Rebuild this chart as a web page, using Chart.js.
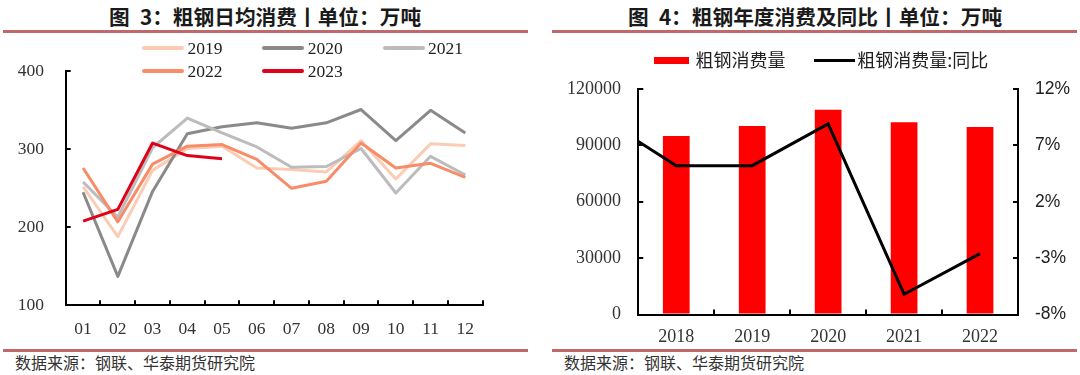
<!DOCTYPE html>
<html>
<head>
<meta charset="utf-8">
<script src="https://cdn.jsdelivr.net/npm/chart.js@4.4.0/dist/chart.umd.min.js"></script>
<style>
  body { margin: 0; width: 1080px; height: 375px; background: #fff; position: relative; overflow: hidden;
         font-family: "Noto Sans CJK SC", sans-serif; }
  canvas { position: absolute; top: 0; }
  .title { position: absolute; top: 3px; font-weight: bold; font-size: 20.7px; line-height: 26px; color: #1a1a1a; text-align: center; white-space: nowrap; }
  .rule { position: absolute; height: 3px; background: #c0696a; }
  .src { position: absolute; top: 351px; font-size: 16px; line-height: 22px; color: #333; white-space: nowrap; }
  .lg { position: absolute; white-space: nowrap; }
  .lg i { position: absolute; display: block; border-radius: 2px; }
  .lg span { position: absolute; }
</style>
</head>
<body>
<div class="title" style="left:0;width:530px;">图&ensp;3：粗钢日均消费丨单位：万吨</div>
<div class="title" style="left:552px;width:526px;">图&ensp;4：粗钢年度消费及同比丨单位：万吨</div>
<div class="rule" style="left:3px;width:525px;top:30px;"></div>
<div class="rule" style="left:552px;width:525px;top:30px;"></div>
<div class="rule" style="left:3px;width:525px;top:349px;"></div>
<div class="rule" style="left:552px;width:525px;top:349px;"></div>
<div class="src" style="left:15px;">数据来源：钢联、华泰期货研究院</div>
<div class="src" style="left:564px;">数据来源：钢联、华泰期货研究院</div>

<canvas id="daily" width="540" height="375" style="left:0;"></canvas>
<canvas id="annual" width="540" height="375" style="left:540px;"></canvas>
<div id="legend1"></div>
<div id="legend2"></div>

<script>
// 图3 粗钢日均消费 (万吨)
const months = ['01', '02', '03', '04', '05', '06', '07', '08', '09', '10', '11', '12'];
const d2019 = [252, 188, 273, 301, 304, 276, 274, 271, 311, 262, 307, 305];
const d2020 = [245, 137, 246, 320, 329, 334, 327, 334, 351, 311, 350, 321];
const d2021 = [258, 213, 302, 340, 321, 303, 277, 278, 301, 244, 291, 267];
const d2022 = [276, 207, 281, 304, 306, 287, 250, 259, 308, 276, 282, 264];
const d2023 = [208, 223, 308, 292, 288];
const dailyTicks = [100, 200, 300, 400];

// 图4 粗钢年度消费及同比 (2017 only carries the yoy point that runs in from the left edge)
const years = ['2017', '2018', '2019', '2020', '2021', '2022'];
const consumption = [null, 95000, 100300, 109000, 102300, 99800];
const yoy = [9.5, 5.2, 5.2, 8.9, -6.2, -2.6];
const volTicks = [0, 30000, 60000, 90000, 120000];
const yoyTicks = [-8, -3, 2, 7, 12];

const serif = 'Liberation Serif';
const axisGrid = { drawOnChartArea: false, tickLength: -5, color: '#000', lineWidth: 2 };
const axisBorder = { color: '#000', width: 2 };

function tickRange(t) {
    return { min: t[0], max: t[t.length - 1], stepSize: t[1] - t[0] };
}

const dailySets = [
    { label: '2019', data: d2019, borderColor: '#fbcbb4', order: 4 },
    { label: '2020', data: d2020, borderColor: '#8a8a8a', order: 3 },
    { label: '2021', data: d2021, borderColor: '#bcbcbc', order: 2 },
    { label: '2022', data: d2022, borderColor: '#f88c68', order: 1 },
    { label: '2023', data: d2023, borderColor: '#e00018', order: 0 }
];

new Chart(document.getElementById('daily'), {
    type: 'line',
    data: { labels: months, datasets: dailySets },
    options: {
        responsive: false,
        animation: false,
        layout: { padding: { top: 71.3, right: 57.3, bottom: 29.7, left: 0 } },
        plugins: { legend: { display: false }, tooltip: { enabled: false } },
        elements: {
            point: { radius: 0 },
            line: { borderWidth: 3, tension: 0, borderJoinStyle: 'round' }
        },
        scales: {
            x: {
                offset: true,
                grid: Object.assign({ offset: true }, axisGrid),
                border: axisBorder,
                ticks: { padding: 18.7, color: '#333', font: { family: serif, size: 17.5 } },
                afterFit: s => { s.height = 40; }
            },
            y: Object.assign(tickRange(dailyTicks), {
                grid: axisGrid,
                border: axisBorder,
                ticks: { stepSize: 100, padding: 26.7, color: '#333', font: { family: serif, size: 17.5 },
                         callback: v => String(v) },
                afterFit: s => { s.width = 65.7; }
            })
        }
    }
});

new Chart(document.getElementById('annual'), {
    type: 'bar',
    data: {
        labels: years,
        datasets: [
            { type: 'line', label: '粗钢消费量:同比', data: yoy, yAxisID: 'y1', borderColor: '#000',
              backgroundColor: '#000', borderWidth: 3, pointRadius: 0, tension: 0, order: 0 },
            { type: 'bar', label: '粗钢消费量', data: consumption, yAxisID: 'y', backgroundColor: '#ff0000',
              barPercentage: 0.352, categoryPercentage: 1, order: 1 }
        ]
    },
    options: {
        responsive: false,
        animation: false,
        layout: { padding: { top: 89, right: 0, bottom: 20.5, left: 0 } },
        plugins: { legend: { display: false }, tooltip: { enabled: false } },
        scales: {
            x: {
                min: '2018',
                offset: true,
                grid: Object.assign({ offset: true }, axisGrid),
                border: axisBorder,
                ticks: { padding: 17, color: '#333', font: { family: serif, size: 18 } },
                afterFit: s => { s.height = 40; }
            },
            y: Object.assign(tickRange(volTicks), {
                position: 'left',
                grid: axisGrid,
                border: axisBorder,
                ticks: { stepSize: volTicks[1] - volTicks[0], padding: 22.3, color: '#333',
                         font: { family: serif, size: 18 }, callback: v => String(v) },
                afterFit: s => { s.width = 98.3; }
            }),
            y1: Object.assign(tickRange(yoyTicks), {
                position: 'right',
                grid: axisGrid,
                border: axisBorder,
                ticks: { stepSize: yoyTicks[1] - yoyTicks[0], padding: 22, color: '#222',
                         font: { family: 'Liberation Sans', size: 17.5 }, callback: v => v + '%' },
                afterFit: s => { s.width = 62; }
            })
        }
    }
});

// legends, built from the datasets
const lg1 = document.getElementById('legend1');
dailySets.forEach((ds, i) => {
    const col = i % 3, row = Math.floor(i / 3);
    const x = 142 + col * 120.3, y = 48.3 + row * 23;
    const el = document.createElement('div');
    el.className = 'lg';
    el.style.left = x + 'px';
    el.style.top = (y - 10) + 'px';
    el.innerHTML = '<i style="left:0;top:8px;width:42px;height:4px;background:' + ds.borderColor + '"></i>' +
        '<span style="left:45.5px;top:0;font:17.5px/20px \'' + serif + '\';color:#222">' + ds.label + '</span>';
    lg1.appendChild(el);
});

const lg2 = document.getElementById('legend2');
lg2.innerHTML =
    '<div class="lg" style="left:653.5px;top:47.4px;"><i style="left:0;top:10px;width:35px;height:7px;background:#ff0000;border-radius:0"></i>' +
    '<span style="left:42px;top:0;font-size:18px;line-height:24px;color:#222">粗钢消费量</span></div>' +
    '<div class="lg" style="left:813.5px;top:47.4px;"><i style="left:0;top:12px;width:41px;height:3px;background:#000;border-radius:0"></i>' +
    '<span style="left:43.7px;top:0;font-size:18px;line-height:24px;color:#222">粗钢消费量:同比</span></div>';
</script>
</body>
</html>
